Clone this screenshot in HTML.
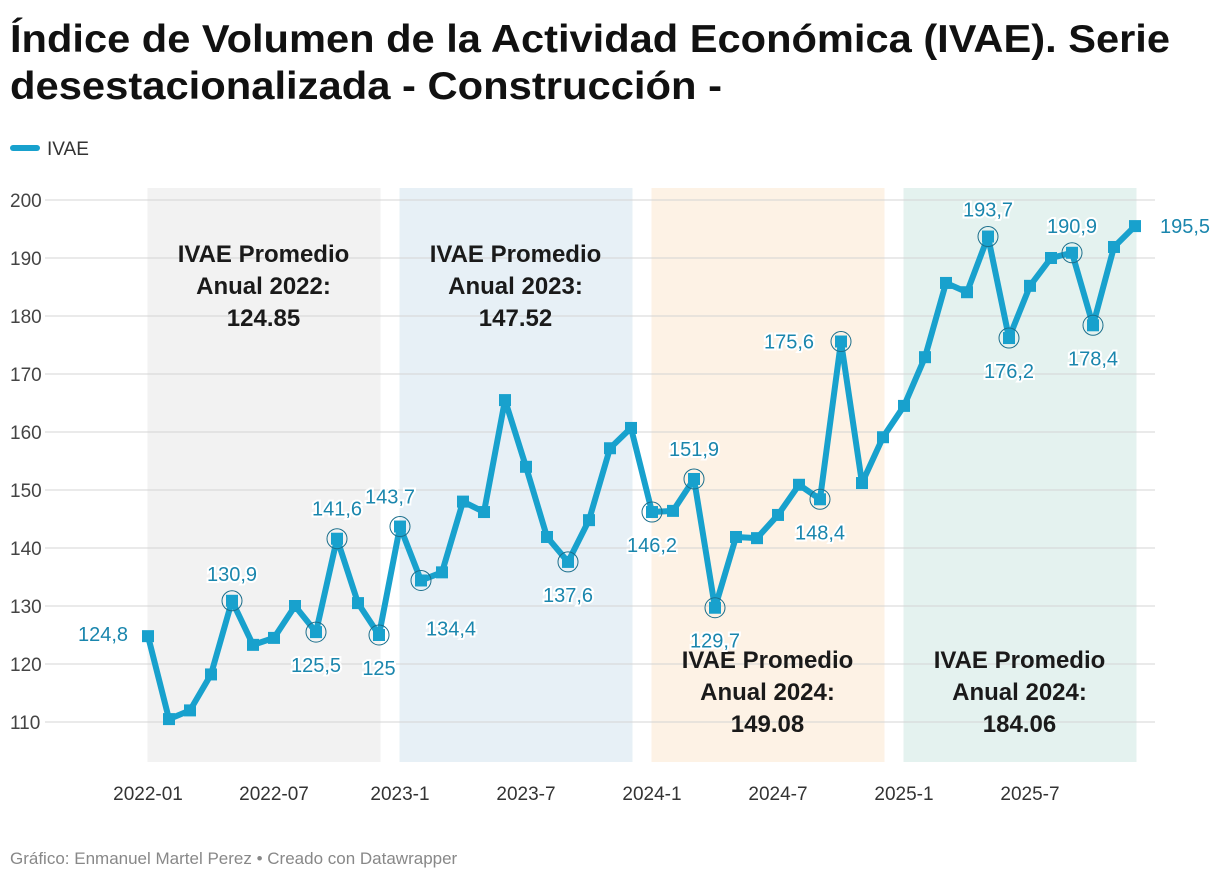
<!DOCTYPE html>
<html><head><meta charset="utf-8"><style>
body{margin:0;background:#fff;font-family:"Liberation Sans",sans-serif;}
svg text{font-family:"Liberation Sans",sans-serif;}
</style></head><body>
<svg id="c" width="1220" height="882" xmlns="http://www.w3.org/2000/svg">
<text x="10" y="52" font-size="39" font-weight="bold" fill="#111" textLength="1160" lengthAdjust="spacingAndGlyphs">Índice de Volumen de la Actividad Económica (IVAE). Serie</text>
<text x="10" y="99" font-size="39" font-weight="bold" fill="#111" textLength="712" lengthAdjust="spacingAndGlyphs">desestacionalizada - Construcción -</text>
<rect x="10" y="145" width="30" height="6" rx="3" fill="#18a1cd"/>
<text x="47" y="155" font-size="19" fill="#333">IVAE</text>
<g id="bands"></g><g id="grid"></g><g id="btext"></g><g id="series"></g><g id="labels"></g>
<text x="10" y="864" font-size="17" fill="#888">Gráfico: Enmanuel Martel Perez • Creado con Datawrapper</text>
</svg>
<script>
const values=[124.8,110.5,112,118.2,130.9,123.3,124.5,130,125.5,141.6,130.5,125,143.7,134.4,135.8,148,146.2,165.5,154,141.9,137.6,144.8,157.2,160.7,146.2,146.4,151.9,129.7,141.9,141.7,145.7,150.9,148.4,175.6,151.2,159.1,164.5,172.9,185.7,184.1,193.7,176.2,185.2,190,190.9,178.4,191.9,195.5];
const yTicks=[110,120,130,140,150,160,170,180,190,200];
const xTickIdx=[0,6,12,18,24,30,36,42];
const xTickLabels=["2022-01","2022-07","2023-1","2023-7","2024-1","2024-7","2025-1","2025-7"];
const annotIdx=[0,4,8,9,11,12,13,20,24,26,27,32,33,40,41,44,45,47];
const annotText=["124,8","130,9","125,5","141,6","125","143,7","134,4","137,6","146,2","151,9","129,7","148,4","175,6","193,7","176,2","190,9","178,4","195,5"];
const bandYears=["2022","2023","2024","2024"];
const bandAvgs=["124.85","147.52","149.08","184.06"];
const NS="http://www.w3.org/2000/svg";
const X=i=>148+i*(1135-148)/47;
const Y=v=>722-(v-110)*(522/90);
function mk(t,a,p){const e=document.createElementNS(NS,t);for(const k in a)e.setAttribute(k,a[k]);p.appendChild(e);return e;}
const bands=document.getElementById('bands'),btext=document.getElementById('btext'),grid=document.getElementById('grid'),ser=document.getElementById('series'),lab=document.getElementById('labels');
const bcol=["#f2f2f2","#e7f0f6","#fdf2e5","#e4f2ef"];
bandYears.forEach((y,k)=>{
 const r=mk('rect',{x:X(k*12)-0.5,y:188,width:X(k*12+11)-X(k*12)+2,height:574,fill:bcol[k]},bands);
 
 
 const cx=X(k*12+5.5), top=k<2?262:668;
 ["IVAE Promedio","Anual "+y+":",bandAvgs[k]].forEach((s,j)=>{
  const t=mk('text',{x:cx,y:top+j*32,'font-size':24,'font-weight':'bold','text-anchor':'middle',fill:'#1a1a1a'},btext);t.textContent=s;
  
  
 });
});
yTicks.forEach(v=>{
 const l=mk('line',{x1:45,x2:1155,y1:Y(v),y2:Y(v),stroke:'#d4d4d4','stroke-width':1},grid);
 
 
 const t=mk('text',{x:10,y:Y(v)+7,'font-size':19,fill:'#444'},grid);t.textContent=v;
 
 
});
xTickIdx.forEach((i,k)=>{
 const t=mk('text',{x:X(i),y:800,'font-size':19,fill:'#333','text-anchor':'middle'},grid);t.textContent=xTickLabels[k];
 
 
});
const pl=mk('polyline',{points:values.map((v,i)=>X(i)+','+Y(v)).join(' '),fill:'none',stroke:'#18a1cd','stroke-width':6,'stroke-linejoin':'round'},ser);


values.forEach((v,i)=>{
 const r=mk('rect',{x:X(i)-6,y:Y(v)-6,width:12,height:12,fill:'#18a1cd'},ser);
 
 
});
const off={0:[-45,5],4:[0,-20],8:[0,40],9:[0,-23],11:[0,40],12:[-10,-23],13:[30,55],20:[0,40],24:[0,40],26:[0,-23],27:[0,40],32:[0,40],33:[-52,7],40:[0,-20],41:[0,40],44:[0,-20],45:[0,40],47:[50,7]};
annotIdx.forEach((i,k)=>{
 const cx=X(i),cy=Y(values[i]);
 if(i!==0&&i!==47){const c=mk('circle',{cx:cx,cy:cy,r:10,fill:'none',stroke:'#1b6f8c','stroke-width':1},lab);
  
  }
 const o=off[i]||[0,-20];
 const t=mk('text',{x:cx+o[0],y:cy+o[1],'font-size':20,fill:'#1a86ad','text-anchor':'middle',stroke:'#fff','stroke-width':4,'paint-order':'stroke'},lab);
 t.textContent=annotText[k];
 
 
});
</script>
</body></html>
